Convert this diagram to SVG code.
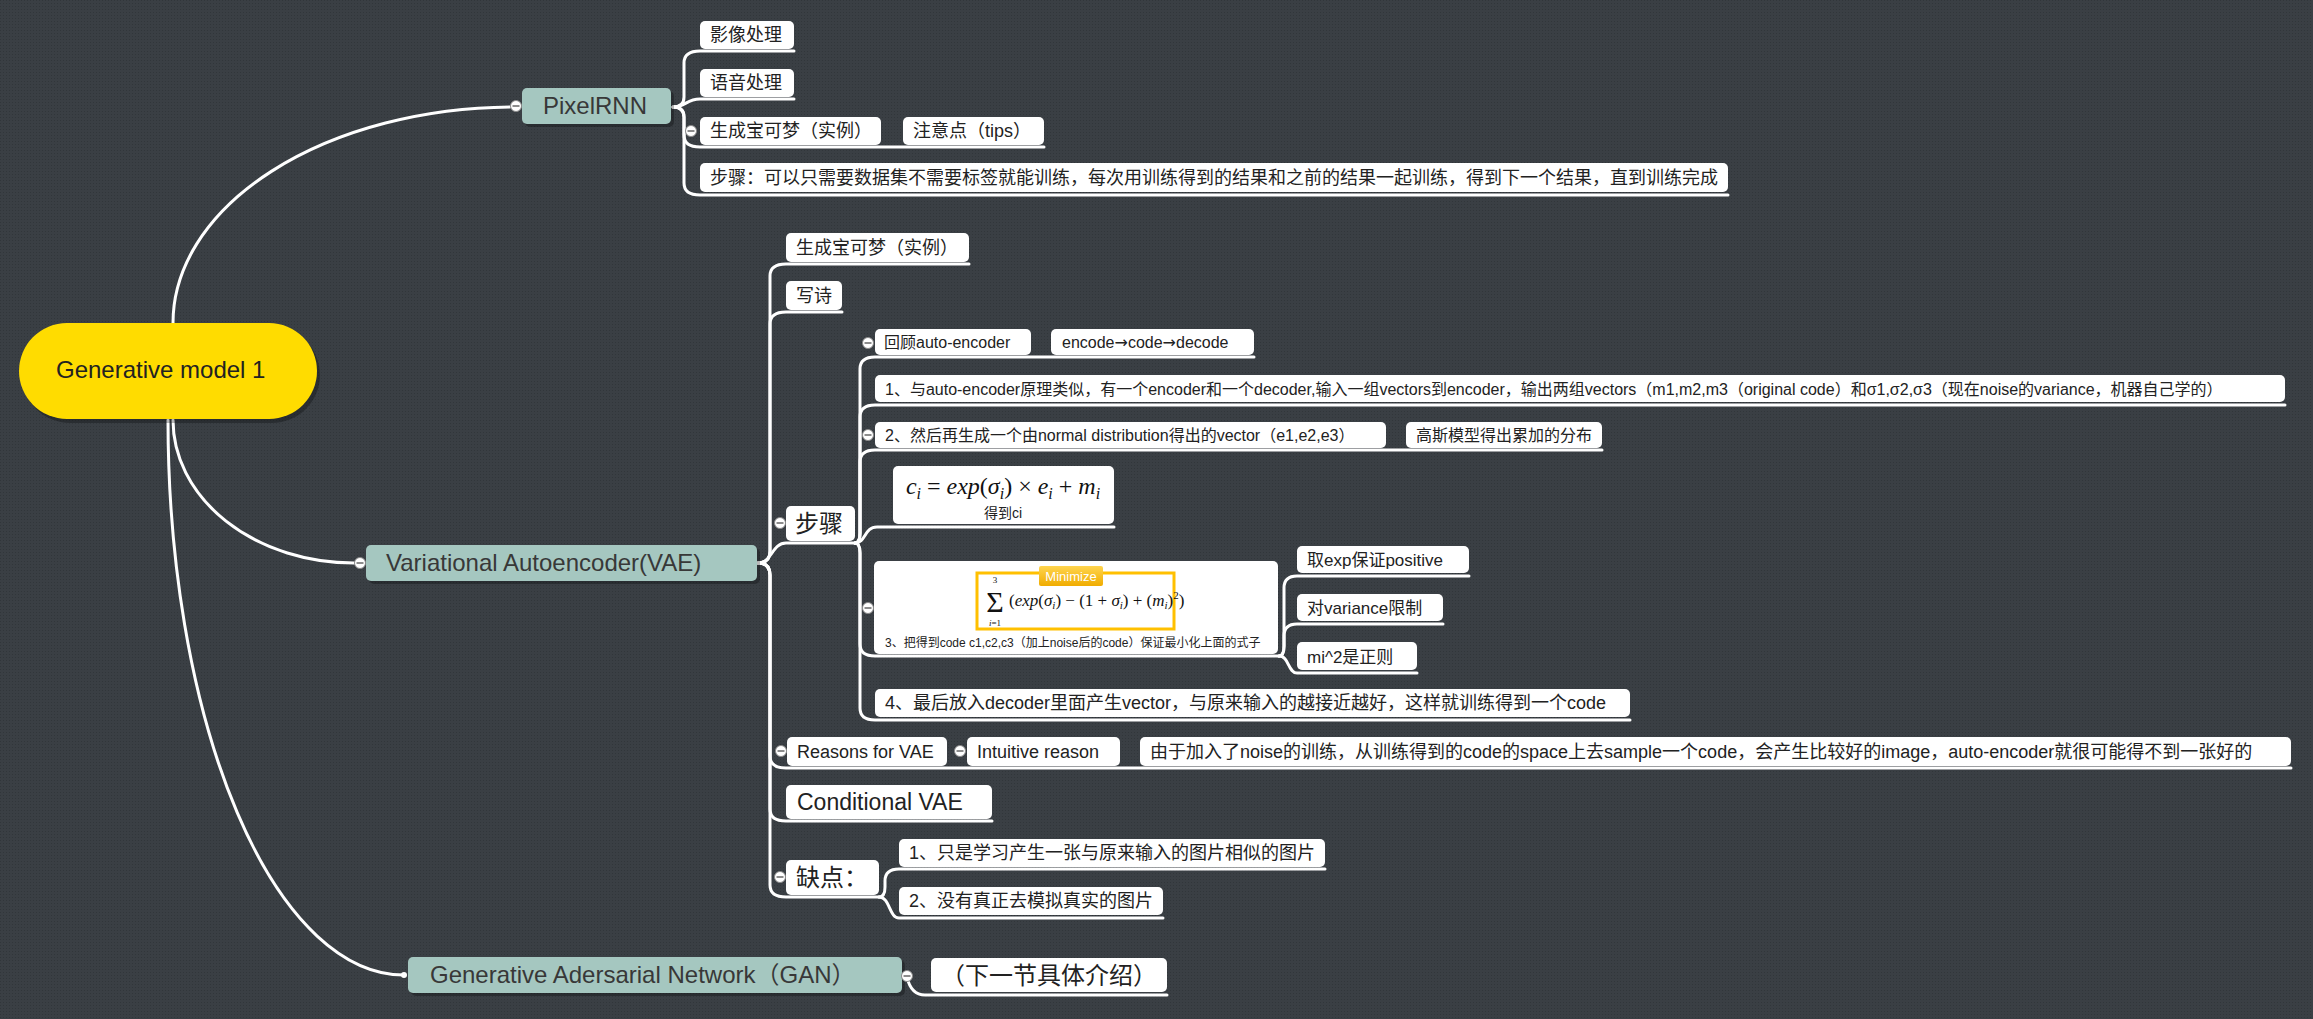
<svg xmlns="http://www.w3.org/2000/svg" width="2313" height="1019" viewBox="0 0 2313 1019">
<style>
.ln{fill:none;stroke:#fff;stroke-width:3;stroke-linecap:round;stroke-linejoin:round}
.box{fill:#fff}
.main{fill:#a5c7c0}
.sh{fill:#000;opacity:.28}
.t{font-family:"Liberation Sans","Noto Sans CJK SC",sans-serif;fill:#222}
.mt{font-family:"Liberation Sans","Noto Sans CJK SC",sans-serif;fill:#383838;font-size:24px}
.s16{font-size:16px}.s17{font-size:17px}.s18{font-size:18px}.s23{font-size:23px}.s24{font-size:24px}
.math{font-family:"Liberation Serif","DejaVu Serif",serif;fill:#111}
.it{font-style:italic}
.ar{font-family:"DejaVu Sans",sans-serif}
</style>
<defs>
<pattern id="dots" width="3" height="3" patternUnits="userSpaceOnUse"><rect width="3" height="3" fill="#3a3f44"/><rect width="1" height="1" fill="#31363a"/></pattern>
<g id="col"><circle r="5.5" fill="#fff" stroke="#8a8a8a" stroke-width="1"/><line x1="-3.5" x2="3.5" y1="0" y2="0" stroke="#666" stroke-width="1.5"/></g>
<linearGradient id="orng" x1="0" y1="0" x2="0" y2="1"><stop offset="0" stop-color="#ffd54f"/><stop offset="1" stop-color="#f0ac00"/></linearGradient>
</defs>
<rect width="2313" height="1019" fill="url(#dots)"/>

<g id="connectors">
<path class="ln" d="M173,323 A342,216 0 0 1 510,107"/>
<path class="ln" d="M173,420 A181,143 0 0 0 354,563"/>
<path class="ln" d="M168,420 A236,555 0 0 0 404,975"/>
<path class="ln" d="M673,107 Q684,107 684,97 L684,63 Q684,51 700,51 L794,51"/>
<path class="ln" d="M673,107 C686,107 686,99 700,99 L794,99"/>
<path class="ln" d="M673,107 Q684,107 684,117 L684,135 Q684,147 700,147 L1044,147"/>
<path class="ln" d="M673,107 Q684,107 684,117 L684,183 Q684,195 700,195 L1728,195"/>
<path class="ln" d="M758,563 Q770,563 770,551 L770,276 Q770,264 786,264 L969,264"/>
<path class="ln" d="M758,563 Q770,563 770,551 L770,324 Q770,312 786,312 L842,312"/>
<path class="ln" d="M758,563 C772,563 772,543 786,543 L855,543"/>
<path class="ln" d="M758,563 Q770,563 770,575 L770,756 Q770,768 786,768 L2291,768"/>
<path class="ln" d="M758,563 Q770,563 770,575 L770,809 Q770,821 786,821 L992,821"/>
<path class="ln" d="M758,563 Q770,563 770,575 L770,885 Q770,897 786,897 L879,897"/>
<path class="ln" d="M855,543 Q860,543 860,533 L860,369 Q860,357 875,357 L1254,357"/>
<path class="ln" d="M855,543 Q860,543 860,533 L860,417 Q860,405 875,405 L2285,405"/>
<path class="ln" d="M855,543 Q860,543 860,533 L860,462 Q860,450 875,450 L1602,450"/>
<path class="ln" d="M855,543 C866,543 864,527 877,527 L1114,527"/>
<path class="ln" d="M855,543 Q860,543 860,553 L860,644 Q860,656 875,656 L1279,656"/>
<path class="ln" d="M855,543 Q860,543 860,553 L860,708 Q860,720 875,720 L1630,720"/>
<path class="ln" d="M1279,656 Q1284,656 1284,646 L1284,588 Q1284,576 1297,576 L1469,576"/>
<path class="ln" d="M1279,656 Q1284,656 1284,646 L1284,636 Q1284,624 1297,624 L1443,624"/>
<path class="ln" d="M1279,656 C1289,656 1288,673 1297,673 L1417,673"/>
<path class="ln" d="M879,897 Q885,897 885,887 L885,881 Q885,869 899,869 L1325,869"/>
<path class="ln" d="M879,897 C890,897 889,918 899,918 L1163,918"/>
<path class="ln" d="M907,977 Q911,995 925,995 L1167,995"/>
</g>

<g id="root">
<rect x="22" y="327" width="298" height="96" rx="48" class="sh"/>
<rect x="19" y="323" width="298" height="96" rx="48" fill="#ffdc00"/>
<text x="56" y="378" class="t s24" fill="#333">Generative model 1</text>
</g>

<g id="pixelrnn">
<rect x="525" y="91" width="149" height="36" rx="5" class="sh"/>
<rect x="522" y="88" width="149" height="36" rx="5" class="main"/>
<text x="543" y="114" class="mt">PixelRNN</text>
<use href="#col" x="516" y="106"/>
</g>
<g id="p-img"><rect x="700" y="21" width="94" height="28" rx="5" class="box"/><text x="710" y="41" class="t s18">影像处理</text></g>
<g id="p-voice"><rect x="700" y="69" width="94" height="28" rx="5" class="box"/><text x="710" y="89" class="t s18">语音处理</text></g>
<g id="p-poke"><rect x="700" y="117" width="181" height="28" rx="5" class="box"/><text x="710" y="137" class="t s18">生成宝可梦（实例）</text><use href="#col" x="691" y="131"/></g>
<g id="p-tips"><rect x="903" y="117" width="141" height="28" rx="5" class="box"/><text x="913" y="137" class="t s18">注意点（tips）</text></g>
<g id="p-steps"><rect x="700" y="163" width="1028" height="29" rx="5" class="box"/><text x="710" y="184" class="t s18">步骤：可以只需要数据集不需要标签就能训练，每次用训练得到的结果和之前的结果一起训练，得到下一个结果，直到训练完成</text></g>

<g id="vae">
<rect x="369" y="548" width="391" height="36" rx="5" class="sh"/>
<rect x="366" y="545" width="391" height="36" rx="5" class="main"/>
<text x="386" y="571" class="mt">Variational Autoencoder(VAE)</text>
<use href="#col" x="360" y="563"/>
</g>
<g id="v-poke"><rect x="786" y="233" width="183" height="29" rx="5" class="box"/><text x="796" y="254" class="t s18">生成宝可梦（实例）</text></g>
<g id="v-poem"><rect x="786" y="281" width="56" height="29" rx="5" class="box"/><text x="796" y="302" class="t s18">写诗</text></g>
<g id="v-steps"><rect x="786" y="506" width="69" height="35" rx="5" class="box"/><text x="795" y="532" class="t s24">步骤</text><use href="#col" x="780" y="523"/></g>

<g id="s-review"><rect x="875" y="329" width="156" height="26" rx="5" class="box"/><text x="884" y="348" class="t s16">回顾auto-encoder</text><use href="#col" x="868" y="343"/></g>
<g id="s-ecd"><rect x="1051" y="329" width="203" height="26" rx="5" class="box"/><text x="1062" y="348" class="t s16">encode<tspan class="ar">→</tspan>code<tspan class="ar">→</tspan>decode</text></g>
<g id="s-1"><rect x="875" y="375" width="1410" height="27" rx="5" class="box"/><text x="885" y="395" class="t s16">1、与auto-encoder原理类似，有一个encoder和一个decoder,输入一组vectors到encoder，输出两组vectors（m1,m2,m3（original code）和σ1,σ2,σ3（现在noise的variance，机器自己学的）</text></g>
<g id="s-2"><rect x="875" y="422" width="511" height="26" rx="5" class="box"/><text x="885" y="441" class="t s16">2、然后再生成一个由normal distribution得出的vector（e1,e2,e3）</text><use href="#col" x="868" y="435"/></g>
<g id="s-gauss"><rect x="1406" y="422" width="196" height="26" rx="5" class="box"/><text x="1416" y="441" class="t s16">高斯模型得出累加的分布</text></g>
<g id="s-ci">
<rect x="893" y="466" width="221" height="58" rx="5" class="box"/>
<text x="1003" y="494" text-anchor="middle" class="math" font-size="24"><tspan class="it">c</tspan><tspan class="it" font-size="16" dy="5">i</tspan><tspan dy="-5"> = </tspan><tspan class="it">exp</tspan>(<tspan class="it">σ</tspan><tspan class="it" font-size="16" dy="5">i</tspan><tspan dy="-5">) × </tspan><tspan class="it">e</tspan><tspan class="it" font-size="16" dy="5">i</tspan><tspan dy="-5"> + </tspan><tspan class="it">m</tspan><tspan class="it" font-size="16" dy="5">i</tspan></text>
<text x="1003" y="518" text-anchor="middle" class="t" font-size="14">得到ci</text>
</g>
<g id="s-3">
<rect x="874" y="561" width="404" height="93" rx="5" class="box"/>
<rect x="977" y="573" width="197" height="56" fill="#fff" stroke="#ffc000" stroke-width="3"/>
<rect x="1039" y="566" width="64" height="20" rx="2" fill="url(#orng)"/>
<text x="1071" y="581" text-anchor="middle" font-family="Liberation Sans, sans-serif" font-size="13" fill="#fff">Minimize</text>
<text x="995" y="612" text-anchor="middle" class="math" font-size="30">Σ</text>
<text x="995" y="583" text-anchor="middle" class="math" font-size="9">3</text>
<text x="995" y="626" text-anchor="middle" class="math" font-size="9"><tspan class="it">i</tspan>=1</text>
<text x="1009" y="606" class="math" font-size="17">(<tspan class="it">exp</tspan>(<tspan class="it">σ</tspan><tspan class="it" font-size="11" dy="3">i</tspan><tspan dy="-3">) − (1 + </tspan><tspan class="it">σ</tspan><tspan class="it" font-size="11" dy="3">i</tspan><tspan dy="-3">) + (</tspan><tspan class="it">m</tspan><tspan class="it" font-size="11" dy="3">i</tspan><tspan dy="-3">)</tspan><tspan font-size="11" dy="-7">2</tspan><tspan dy="7">)</tspan></text>
<text x="885" y="647" class="t" font-size="12">3、把得到code c1,c2,c3（加上noise后的code）保证最小化上面的式子</text>
<use href="#col" x="868" y="608"/>
</g>
<g id="t-exp"><rect x="1297" y="546" width="172" height="27" rx="5" class="box"/><text x="1307" y="566" class="t s17">取exp保证positive</text></g>
<g id="t-var"><rect x="1297" y="594" width="146" height="27" rx="5" class="box"/><text x="1307" y="614" class="t s17">对variance限制</text></g>
<g id="t-mi"><rect x="1297" y="642" width="120" height="28" rx="5" class="box"/><text x="1307" y="663" class="t s17">mi^2是正则</text></g>
<g id="s-4"><rect x="875" y="689" width="755" height="28" rx="5" class="box"/><text x="885" y="709" class="t s18">4、最后放入decoder里面产生vector，与原来输入的越接近越好，这样就训练得到一个code</text></g>

<g id="v-reasons"><rect x="787" y="737" width="160" height="29" rx="5" class="box"/><text x="797" y="758" class="t s18">Reasons for VAE</text><use href="#col" x="781" y="751"/></g>
<g id="r-intuitive"><rect x="967" y="737" width="153" height="29" rx="5" class="box"/><text x="977" y="758" class="t s18">Intuitive reason</text><use href="#col" x="960" y="751"/></g>
<g id="r-explain"><rect x="1140" y="737" width="1151" height="29" rx="5" class="box"/><text x="1150" y="758" class="t s18">由于加入了noise的训练，从训练得到的code的space上去sample一个code，会产生比较好的image，auto-encoder就很可能得不到一张好的</text></g>
<g id="v-cvae"><rect x="786" y="785" width="206" height="34" rx="5" class="box"/><text x="797" y="810" class="t s23">Conditional VAE</text></g>
<g id="v-cons"><rect x="786" y="860" width="93" height="35" rx="5" class="box"/><text x="796" y="886" class="t s24">缺点：</text><use href="#col" x="780" y="877"/></g>
<g id="c-1"><rect x="899" y="839" width="426" height="28" rx="5" class="box"/><text x="909" y="859" class="t s18">1、只是学习产生一张与原来输入的图片相似的图片</text></g>
<g id="c-2"><rect x="899" y="887" width="264" height="28" rx="5" class="box"/><text x="909" y="907" class="t s18">2、没有真正去模拟真实的图片</text></g>

<g id="gan">
<rect x="411" y="960" width="494" height="36" rx="5" class="sh"/>
<rect x="408" y="957" width="494" height="36" rx="5" class="main"/>
<text x="430" y="983" class="mt">Generative Adersarial Network（GAN）</text>
<circle cx="404" cy="975" r="3" fill="#fff"/>
<use href="#col" x="907" y="976"/>
</g>
<g id="g-next"><rect x="931" y="958" width="236" height="34" rx="5" class="box"/><text x="941" y="984" class="t s24">（下一节具体介绍）</text></g>
</svg>
